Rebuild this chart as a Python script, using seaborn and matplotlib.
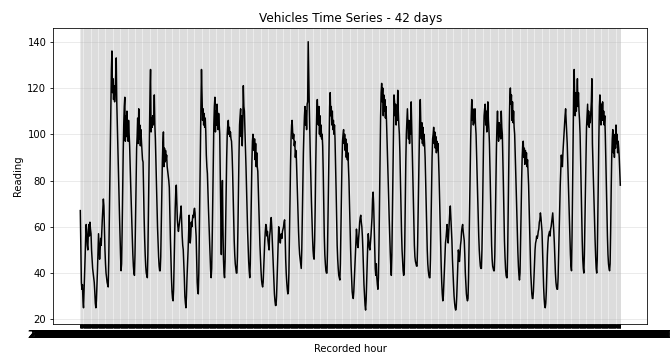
import matplotlib
matplotlib.use("Agg")
import matplotlib.pyplot as plt
import seaborn as sns
import pandas as pd

# ---- data: hourly readings, 42 days (6 weeks, each starting with a weekend) ----
week1 = (
    [67, 50, 36, 33, 35, 28, 25, 32, 40, 47, 55, 61, 57, 52, 50, 58, 61, 56, 62, 59, 57, 50, 46, 42]
    + [40, 38, 36, 32, 27, 25, 28, 34, 41, 49, 57, 52, 46, 50, 55, 52, 58, 63, 68, 72, 69, 60, 50, 44]
    + [40, 38, 36, 35, 34, 45, 60, 78, 95, 112, 128, 136, 118, 124, 115, 121, 114, 118, 125, 133, 114, 104, 94, 85]
    + [76, 66, 57, 48, 41, 44, 58, 75, 92, 104, 112, 116, 97, 108, 99, 110, 104, 97, 106, 100, 95, 86, 78, 70]
    + [62, 55, 48, 43, 40, 39, 48, 62, 78, 94, 99, 107, 96, 111, 98, 104, 95, 102, 97, 93, 89, 88, 76, 64]
    + [55, 48, 43, 40, 39, 38, 48, 66, 86, 104, 118, 128, 101, 107, 103, 108, 104, 106, 117, 104, 98, 88, 78, 68]
    + [60, 53, 47, 43, 41, 41, 47, 60, 74, 88, 96, 101, 86, 94, 88, 93, 89, 91, 86, 84, 82, 80, 77, 65]
)
week2 = (
    [55, 46, 38, 32, 29, 28, 33, 45, 58, 68, 75, 78, 70, 63, 60, 58, 60, 62, 64, 66, 69, 62, 56, 52]
    + [50, 44, 38, 30, 27, 25, 30, 38, 44, 50, 58, 65, 57, 53, 56, 62, 60, 63, 65, 64, 67, 68, 66, 60]
    + [56, 45, 36, 32, 31, 40, 57, 76, 95, 113, 128, 116, 106, 111, 104, 109, 103, 107, 101, 91, 86, 83, 75, 68]
    + [61, 54, 46, 41, 38, 42, 55, 72, 90, 104, 112, 116, 101, 110, 104, 113, 107, 102, 109, 104, 100, 82, 62, 48]
    + [68, 80, 60, 46, 40, 38, 45, 60, 76, 90, 100, 104, 106, 100, 103, 99, 101, 98, 97, 92, 84, 74, 64, 54]
    + [48, 44, 42, 40, 40, 47, 60, 76, 92, 104, 108, 111, 99, 108, 95, 104, 121, 112, 110, 102, 95, 86, 76, 66]
    + [58, 51, 45, 41, 38, 44, 58, 74, 88, 97, 100, 95, 93, 98, 89, 96, 86, 92, 86, 84, 76, 68, 60, 52]
)
week3 = (
    [46, 41, 37, 35, 34, 36, 42, 48, 54, 58, 61, 60, 56, 58, 54, 52, 50, 56, 58, 62, 64, 60, 54, 48]
    + [42, 36, 31, 28, 26, 26, 30, 38, 46, 53, 60, 58, 55, 53, 56, 57, 55, 58, 59, 60, 62, 63, 56, 46]
    + [40, 36, 33, 31, 32, 40, 54, 70, 86, 98, 104, 106, 101, 98, 100, 95, 97, 90, 93, 89, 82, 74, 66, 58]
    + [52, 48, 46, 44, 42, 50, 64, 80, 92, 101, 108, 112, 104, 110, 102, 113, 114, 140, 125, 112, 100, 90, 80, 71]
    + [63, 56, 50, 47, 46, 54, 68, 86, 100, 110, 115, 108, 104, 112, 100, 108, 99, 104, 98, 100, 95, 84, 70, 56]
    + [48, 44, 41, 40, 40, 50, 66, 84, 100, 112, 118, 108, 112, 104, 110, 102, 106, 100, 104, 98, 88, 76, 64, 52]
    + [46, 42, 39, 38, 37, 44, 58, 74, 88, 97, 100, 102, 96, 100, 93, 98, 90, 96, 89, 92, 86, 80, 70, 60]
)
week4 = (
    [51, 43, 37, 32, 30, 29, 32, 37, 42, 48, 54, 59, 56, 52, 51, 55, 58, 62, 64, 65, 62, 60, 56, 50]
    + [42, 35, 30, 26, 24, 28, 36, 45, 52, 57, 54, 51, 50, 53, 56, 60, 64, 72, 75, 70, 60, 50, 42, 39]
    + [44, 38, 35, 33, 38, 52, 72, 92, 108, 118, 122, 114, 120, 108, 117, 110, 115, 107, 112, 106, 98, 90, 81, 72]
    + [64, 56, 49, 43, 39, 48, 66, 86, 104, 117, 114, 108, 113, 104, 110, 106, 119, 110, 104, 100, 92, 80, 68, 58]
    + [50, 45, 41, 39, 40, 52, 70, 88, 100, 106, 111, 104, 98, 106, 96, 104, 100, 114, 104, 96, 86, 74, 62, 52]
    + [47, 45, 44, 43, 43, 52, 66, 82, 96, 108, 115, 104, 98, 105, 96, 103, 95, 100, 96, 90, 80, 70, 60, 50]
    + [44, 41, 39, 38, 38, 46, 60, 76, 90, 98, 100, 103, 96, 101, 94, 99, 92, 97, 93, 96, 90, 82, 72, 62]
)
week5 = (
    [52, 43, 36, 31, 28, 30, 36, 43, 49, 53, 55, 58, 61, 56, 53, 58, 62, 66, 69, 64, 58, 54, 46, 40]
    + [35, 30, 27, 25, 24, 25, 30, 37, 44, 50, 48, 45, 48, 52, 54, 58, 60, 61, 58, 56, 54, 48, 40, 35]
    + [31, 29, 28, 29, 38, 52, 68, 84, 98, 108, 115, 106, 111, 104, 110, 105, 111, 104, 100, 91, 82, 73, 64, 56]
    + [50, 46, 43, 42, 42, 50, 64, 82, 98, 108, 111, 113, 104, 110, 101, 108, 114, 106, 102, 96, 86, 74, 62, 52]
    + [46, 43, 42, 41, 41, 48, 62, 78, 94, 104, 110, 102, 97, 105, 99, 104, 98, 110, 103, 100, 90, 78, 66, 54]
    + [47, 42, 39, 38, 38, 50, 68, 88, 104, 116, 120, 113, 117, 106, 114, 105, 110, 103, 100, 92, 84, 75, 66, 57]
    + [49, 43, 39, 37, 40, 52, 66, 80, 90, 95, 97, 90, 94, 87, 93, 88, 92, 86, 89, 84, 78, 68, 58, 48]
)
week6 = (
    [40, 35, 31, 29, 29, 32, 38, 44, 50, 53, 54, 56, 55, 56, 58, 59, 62, 63, 66, 64, 61, 58, 50, 42]
    + [34, 29, 26, 25, 27, 32, 40, 48, 53, 56, 57, 58, 56, 59, 60, 62, 64, 66, 62, 58, 53, 46, 40, 36]
    + [34, 33, 33, 38, 48, 58, 68, 78, 84, 91, 88, 86, 92, 96, 100, 104, 108, 111, 106, 102, 96, 88, 80, 72]
    + [64, 55, 48, 43, 41, 56, 76, 98, 118, 128, 114, 108, 118, 110, 116, 124, 112, 118, 110, 106, 100, 88, 76, 64]
    + [54, 46, 42, 40, 48, 62, 78, 92, 103, 108, 113, 104, 110, 103, 108, 105, 110, 114, 124, 96, 88, 80, 71, 62]
    + [54, 47, 42, 40, 46, 62, 80, 98, 112, 117, 108, 104, 113, 106, 114, 106, 110, 104, 108, 100, 90, 78, 66, 56]
    + [48, 44, 42, 41, 44, 58, 76, 90, 98, 102, 92, 100, 90, 99, 94, 104, 96, 100, 92, 97, 94, 90, 84, 78]
)
readings = week1 + week2 + week3 + week4 + week5 + week6

# tick labels: one per recorded hour
hour_labels = list(
    pd.date_range("2015-11-07 00:00:00", periods=len(readings), freq="h").strftime("%Y-%m-%d %H:%M:%S")
)

df = pd.DataFrame({"Recorded hour": hour_labels, "Reading": readings})

fig = plt.figure(figsize=(670 / 72, 356 / 72), dpi=72)
ax = fig.add_axes([53.3 / 670, 1 - 323.5 / 356, (647.3 - 53.3) / 670, (323.5 - 28.3) / 356])

sns.lineplot(data=df, x="Recorded hour", y="Reading", color="black", linewidth=1.5, ax=ax)

ax.grid(True, alpha=0.3)
ax.tick_params(axis="x", width=1.0)
ax.set_title("Vehicles Time Series - 42 days", fontsize=12)
ax.set_xlabel("Recorded hour", fontsize=10)
ax.set_ylabel("Reading", fontsize=10)

fig.savefig("out.png", dpi=72)
